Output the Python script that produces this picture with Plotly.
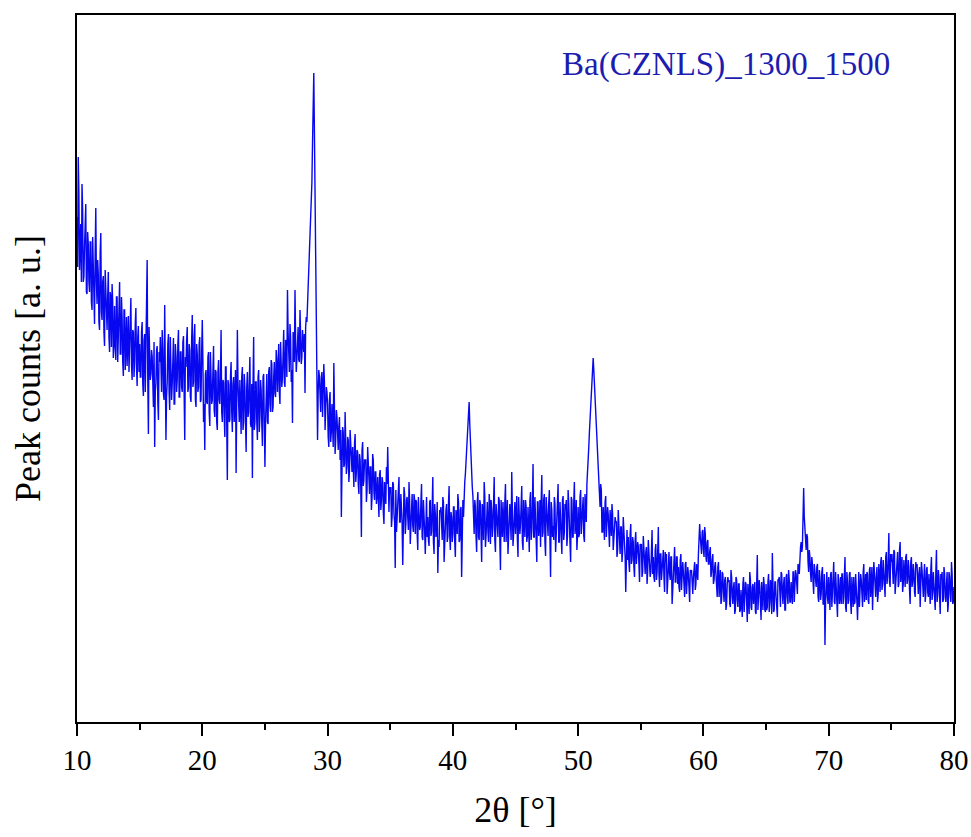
import plotly.graph_objects as go

# 2-theta grid, 10.00 .. 80.00 in 0.05 deg steps
two_theta = [round(10 + 0.05 * i, 2) for i in range(1401)]

intensity_main = [
    [505, 565, 452, 498, 538, 440, 475, 518, 428, 478],   # 10
    [430, 480, 412, 456, 398, 514, 418, 448, 392, 489],   # 11
    [402, 446, 376, 432, 392, 450, 370, 424, 438, 364],   # 12
    [416, 362, 425, 380, 440, 368, 405, 346, 412, 388],   # 13
    [356, 406, 372, 424, 342, 390, 360, 414, 336, 396],   # 14
    [378, 345, 400, 326, 388, 380, 462, 288, 372, 348],   # 15
    [366, 315, 275, 340, 376, 302, 360, 335, 392, 328],   # 16
    [417, 282, 340, 388, 312, 362, 338, 384, 318, 366],   # 17
    [342, 392, 325, 370, 330, 386, 282, 355, 395, 335],   # 18
    [372, 320, 407, 340, 398, 315, 368, 335, 385, 322],   # 19
    [402, 300, 272, 352, 318, 370, 296, 345, 322, 376],   # 20
    [305, 350, 292, 362, 318, 392, 300, 340, 285, 355],   # 21
    [242, 338, 302, 360, 290, 345, 318, 249, 392, 305],   # 22
    [342, 288, 355, 300, 335, 270, 350, 310, 365, 295],   # 23
    [244, 385, 300, 340, 282, 352, 305, 332, 276, 348],   # 24
    [255, 335, 300, 350, 318, 362, 310, 345, 328, 372],   # 25
    [330, 378, 318, 365, 345, 392, 335, 380, 432, 350],   # 26
    [398, 340, 299, 385, 432, 350, 395, 362, 412, 358],   # 27
    [392, 370, 329, 405, 418, 445, 472, 505, 580, 649],   # 28
    [535, 420, 282, 352, 318, 345, 305, 358, 292, 335],   # 29
    [318, 275, 330, 290, 300, 359, 268, 312, 280, 296],   # 30
    [262, 205, 295, 255, 310, 248, 285, 240, 292, 258],   # 31
    [275, 235, 288, 250, 270, 228, 262, 185, 280, 242],   # 32
    [262, 220, 275, 238, 255, 212, 268, 230, 250, 218],   # 33
    [245, 205, 252, 222, 240, 198, 230, 255, 275, 210],   # 34
    [228, 195, 240, 208, 154, 190, 222, 245, 200, 218],   # 35
    [157, 235, 188, 222, 205, 240, 178, 215, 196, 228],   # 36
    [188, 220, 172, 210, 195, 238, 182, 212, 168, 225],   # 37
    [205, 176, 222, 190, 245, 168, 208, 192, 149, 175],   # 38
    [210, 182, 225, 160, 200, 218, 185, 236, 172, 205],   # 39
    [188, 215, 165, 205, 228, 180, 212, 145, 222, 232],   # 40
    [248, 272, 296, 320, 278, 248, 226, 188, 215, 170],   # 41
    [230, 182, 218, 160, 208, 240, 175, 215, 190, 228],   # 42
    [178, 212, 195, 245, 170, 208, 185, 222, 152, 205],   # 43
    [220, 180, 238, 195, 168, 215, 200, 250, 176, 210],   # 44
    [188, 226, 165, 212, 198, 236, 172, 208, 222, 180],   # 45
    [215, 170, 230, 192, 258, 185, 205, 160, 220, 195],   # 46
    [175, 247, 190, 228, 166, 210, 186, 232, 145, 212],   # 47
    [196, 225, 170, 215, 238, 180, 205, 168, 226, 190],   # 48
    [212, 176, 232, 195, 160, 222, 185, 240, 198, 172],   # 49
    [215, 188, 232, 200, 225, 180, 218, 238, 262, 290],   # 50
    [318, 342, 364, 338, 302, 268, 248, 222, 238, 190],   # 51
    [215, 182, 226, 195, 208, 175, 200, 218, 172, 190],   # 52
    [200, 165, 212, 180, 195, 160, 205, 178, 130, 192],   # 53
    [185, 150, 198, 162, 180, 145, 190, 168, 176, 140],   # 54
    [175, 145, 186, 155, 170, 138, 182, 160, 150, 192],   # 55
    [165, 140, 178, 150, 195, 135, 168, 152, 172, 130],   # 56
    [160, 128, 170, 148, 165, 118, 158, 175, 140, 165],   # 57
    [155, 130, 168, 142, 150, 125, 160, 138, 148, 120],   # 58
    [150, 128, 145, 160, 138, 150, 168, 198, 178, 190],   # 59
    [172, 195, 165, 180, 158, 170, 145, 162, 138, 155],   # 60
    [148, 125, 160, 138, 118, 150, 130, 142, 112, 138],   # 61
    [140, 118, 152, 125, 135, 108, 145, 122, 138, 110],   # 62
    [132, 105, 145, 120, 138, 100, 128, 150, 115, 135],   # 63
    [118, 140, 108, 167, 122, 135, 102, 130, 145, 112],   # 64
    [138, 115, 148, 120, 132, 169, 110, 140, 125, 105],   # 65
    [142, 118, 150, 128, 138, 112, 145, 125, 152, 120],   # 66
    [140, 118, 150, 132, 148, 128, 155, 168, 180, 175],   # 67
    [234, 192, 172, 185, 150, 165, 140, 158, 128, 150],   # 68
    [135, 158, 120, 145, 128, 155, 118, 77, 140, 125],    # 69
    [145, 112, 150, 128, 160, 118, 138, 105, 142, 125],   # 70
    [118, 148, 125, 165, 110, 140, 122, 150, 108, 135],   # 71
    [145, 120, 138, 102, 150, 128, 142, 115, 158, 130],   # 72
    [122, 148, 118, 155, 135, 112, 160, 128, 145, 120],   # 73
    [158, 130, 165, 138, 152, 125, 170, 145, 189, 135],   # 74
    [160, 140, 172, 128, 155, 170, 138, 180, 148, 130],   # 75
    [162, 135, 168, 142, 155, 118, 165, 140, 150, 125],   # 76
    [155, 128, 148, 115, 160, 135, 145, 120, 152, 130],   # 77
    [148, 118, 165, 130, 140, 112, 172, 128, 145, 108],   # 78
    [142, 120, 155, 125, 138, 110, 150, 128, 160, 118],   # 79
]

# intensity (a.u.) read at x.05, x.15, ... x.95 (one row per degree)
intensity_mid = [
    [455, 530, 470, 440, 512, 445, 500, 430, 490, 440],   # 10
    [480, 420, 485, 410, 470, 440, 462, 400, 470, 410],   # 11
    [440, 390, 452, 395, 425, 385, 430, 375, 420, 380],   # 12
    [375, 425, 360, 410, 368, 425, 360, 412, 352, 405],   # 13
    [398, 350, 405, 358, 392, 345, 398, 355, 385, 350],   # 14
    [345, 390, 338, 382, 330, 390, 340, 395, 342, 372],   # 15
    [338, 380, 330, 372, 320, 370, 385, 330, 372, 322],   # 16
    [372, 325, 378, 330, 385, 322, 375, 318, 378, 330],   # 17
    [378, 325, 370, 335, 380, 330, 365, 382, 330, 378],   # 18
    [325, 382, 335, 385, 322, 378, 330, 378, 320, 370],   # 19
    [360, 318, 348, 320, 365, 310, 370, 318, 352, 312],   # 20
    [352, 300, 350, 322, 345, 310, 342, 305, 355, 298],   # 21
    [342, 300, 345, 310, 338, 300, 352, 298, 340, 300],   # 22
    [300, 345, 292, 348, 300, 335, 305, 340, 298, 338],   # 23
    [338, 292, 340, 300, 345, 290, 342, 298, 345, 300],   # 24
    [300, 348, 298, 355, 310, 358, 315, 360, 325, 362],   # 25
    [365, 330, 380, 335, 388, 340, 382, 345, 390, 350],   # 26
    [385, 352, 390, 360, 382, 362, 395, 360, 388, 365],   # 27
    [380, 388, 395, 400, 430, 455, 490, 540, 610, 590],   # 28
    [470, 360, 330, 345, 310, 350, 322, 340, 312, 330],   # 29
    [285, 322, 280, 318, 275, 320, 282, 305, 272, 305],   # 30
    [292, 262, 290, 258, 285, 255, 282, 252, 280, 250],   # 31
    [245, 278, 240, 272, 238, 268, 235, 272, 236, 262],   # 32
    [262, 232, 258, 228, 255, 225, 262, 222, 250, 225],   # 33
    [215, 248, 212, 245, 210, 240, 218, 238, 210, 235],   # 34
    [235, 205, 238, 200, 232, 205, 230, 200, 228, 198],   # 35
    [195, 228, 198, 225, 192, 222, 195, 228, 190, 222],   # 36
    [222, 188, 225, 192, 220, 185, 222, 190, 218, 185],   # 37
    [182, 220, 186, 215, 180, 218, 185, 220, 182, 212],   # 38
    [215, 182, 220, 185, 212, 180, 218, 186, 210, 180],   # 39
    [215, 180, 212, 188, 220, 182, 215, 190, 205, 240],   # 40
    [262, 285, 305, 298, 262, 235, 212, 222, 185, 220],   # 41
    [185, 222, 188, 218, 182, 225, 186, 220, 180, 218],   # 42
    [222, 185, 220, 182, 218, 188, 225, 180, 222, 185],   # 43
    [185, 220, 180, 222, 186, 218, 182, 225, 188, 220],   # 44
    [220, 182, 225, 188, 218, 180, 222, 185, 215, 186],   # 45
    [186, 222, 182, 218, 185, 225, 180, 220, 186, 222],   # 46
    [220, 185, 222, 180, 225, 186, 218, 182, 220, 185],   # 47
    [182, 218, 186, 225, 180, 220, 185, 222, 182, 218],   # 48
    [222, 186, 218, 182, 225, 185, 220, 188, 222, 186],   # 49
    [185, 225, 188, 222, 186, 228, 200, 248, 275, 302],   # 50
    [330, 350, 352, 320, 285, 258, 236, 215, 232, 190],   # 51
    [190, 220, 185, 215, 182, 212, 186, 208, 180, 205],   # 52
    [200, 172, 198, 168, 195, 170, 192, 165, 190, 162],   # 53
    [160, 188, 158, 185, 155, 182, 158, 180, 152, 178],   # 54
    [178, 150, 176, 148, 175, 150, 172, 145, 175, 148],   # 55
    [145, 172, 142, 170, 148, 168, 142, 172, 145, 170],   # 56
    [168, 140, 170, 142, 165, 138, 168, 140, 165, 138],   # 57
    [135, 162, 132, 160, 130, 158, 128, 155, 130, 152],   # 58
    [152, 128, 150, 132, 158, 142, 178, 185, 168, 192],   # 59
    [165, 188, 160, 182, 158, 175, 150, 168, 142, 160],   # 60
    [128, 155, 125, 152, 122, 148, 120, 145, 118, 145],   # 61
    [142, 115, 145, 118, 140, 112, 142, 115, 138, 112],   # 62
    [112, 138, 110, 140, 112, 138, 108, 142, 112, 138],   # 63
    [140, 110, 138, 112, 142, 108, 140, 112, 138, 110],   # 64
    [112, 140, 110, 142, 108, 138, 112, 140, 110, 142],   # 65
    [145, 115, 148, 118, 145, 112, 148, 118, 142, 120],   # 66
    [122, 150, 120, 152, 128, 158, 148, 175, 170, 200],   # 67
    [205, 175, 188, 160, 172, 148, 165, 140, 158, 135],   # 68
    [155, 125, 152, 122, 150, 118, 148, 120, 150, 118],   # 69
    [118, 148, 115, 145, 120, 150, 115, 148, 118, 145],   # 70
    [148, 118, 145, 115, 150, 118, 148, 120, 145, 115],   # 71
    [118, 148, 120, 150, 115, 148, 118, 150, 120, 148],   # 72
    [150, 122, 152, 125, 155, 128, 150, 125, 155, 128],   # 73
    [130, 160, 132, 162, 135, 165, 138, 162, 140, 168],   # 74
    [168, 138, 170, 140, 168, 135, 172, 140, 165, 138],   # 75
    [135, 165, 138, 162, 132, 160, 135, 158, 130, 160],   # 76
    [158, 128, 155, 130, 152, 125, 158, 128, 155, 125],   # 77
    [125, 152, 122, 150, 125, 150, 120, 152, 125, 148],   # 78
    [150, 122, 148, 120, 150, 118, 145, 120, 148, 120],   # 79
]
intensity_end = [135]  # 80.00

intensity = []
for row_a, row_b in zip(intensity_main, intensity_mid):
    for a, b in zip(row_a, row_b):
        intensity += [a, b]
intensity += intensity_end
assert len(intensity) == len(two_theta)

x_tickvals = [10, 20, 30, 40, 50, 60, 70, 80]
x_ticktext = ["10", "20", "30", "40", "50", "60", "70", "80"]
sample_label = "Ba(CZNLS)_1300_1500"

fig = go.Figure()
fig.add_trace(go.Scatter(
    x=two_theta, y=intensity, mode="lines",
    line=dict(color="#0808f0", width=1.4),
    showlegend=False, hoverinfo="skip",
))

serif = "Liberation Serif, Times New Roman, serif"

fig.update_layout(
    width=971, height=837,
    margin=dict(l=77, r=17, t=15, b=115),
    paper_bgcolor="white", plot_bgcolor="white",
    font=dict(family=serif, color="black"),
    xaxis=dict(
        range=[10, 80], showgrid=False, zeroline=False, automargin=False,
        showline=True, linecolor="black", linewidth=2, mirror=True,
        ticks="outside", ticklen=12, tickwidth=2, tickcolor="black",
        tickvals=x_tickvals, ticktext=x_ticktext,
        tickfont=dict(family=serif, size=29, color="black"),
        ticklabelstandoff=-1,
        minor=dict(ticks="outside", ticklen=6, tickwidth=2, tickcolor="black",
                   tick0=5, dtick=10, showgrid=False),
        title=dict(text="2θ [°]", font=dict(family=serif, size=36, color="black"),
                   standoff=22),
    ),
    yaxis=dict(
        range=[0, 707], showgrid=False, zeroline=False, automargin=False,
        showline=True, linecolor="black", linewidth=2, mirror=True,
        ticks="", showticklabels=False,
        title=dict(text="Peak counts [a. u.]",
                   font=dict(family=serif, size=36, color="black"),
                   standoff=23),
    ),
    annotations=[dict(
        text=sample_label, xref="paper", yref="paper",
        x=0.551, y=0.930, xanchor="left", yanchor="middle",
        showarrow=False, font=dict(family=serif, size=33, color="#1c1cb0"),
    )],
)

fig.write_html("out.html")
